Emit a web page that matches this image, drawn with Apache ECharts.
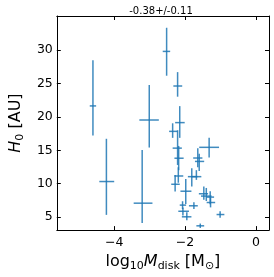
<!DOCTYPE html>
<html><head><meta charset="utf-8">
<script src="https://cdn.jsdelivr.net/npm/echarts@6/dist/echarts.min.js"></script>
<style>html,body{margin:0;padding:0;background:#fff}#c{width:274px;height:277px}</style>
</head><body><div id="c"></div>
<script>
const titleText = '-0.38+/-0.11';
const xTicks = [-4, -2, 0];
const yTicks = [5, 10, 15, 20, 25, 30];
const xVals  = [-4.60,-4.22,-3.21,-3.01,-2.52,-2.21,-2.15,-2.35,-2.21,-2.18,-1.32,-1.64,-1.60,-2.19,-2.28,-1.81,-1.68,-1.98,-2.07,-2.06,-1.95,-1.75,-1.47,-1.40,-1.29,-1.28,-1.01,-1.57];
const xLow   = [-4.69,-4.42,-3.45,-3.29,-2.63,-2.33,-2.28,-2.45,-2.35,-2.30,-1.60,-1.77,-1.72,-2.30,-2.39,-1.92,-1.81,-2.13,-2.15,-2.19,-2.09,-1.89,-1.61,-1.55,-1.39,-1.39,-1.11,-1.68];
const xHigh  = [-4.51,-4.00,-2.92,-2.74,-2.42,-2.08,-2.01,-2.21,-2.09,-2.04,-1.04,-1.51,-1.46,-2.05,-2.15,-1.65,-1.54,-1.82,-1.97,-1.89,-1.82,-1.64,-1.35,-1.25,-1.18,-1.15,-0.89,-1.46];
const yVals  = [21.64,10.32,7.08,19.53,29.80,24.62,19.14,17.83,15.32,13.81,15.44,13.84,13.33,11.15,9.91,11.05,11.05,8.87,6.79,5.87,5.04,6.69,8.49,8.14,7.99,7.18,5.38,3.69];
const yLow   = [17.21,5.33,4.13,15.41,26.16,23.02,16.86,16.86,12.80,12.02,13.91,12.46,11.88,10.14,8.82,9.59,10.57,6.94,6.21,5.23,4.51,6.21,7.59,7.41,6.93,6.45,4.90,3.37];
const yHigh  = [28.49,16.72,15.03,24.77,33.34,26.70,21.61,19.04,18.00,15.65,16.89,15.29,14.49,12.46,11.29,12.31,12.02,10.71,7.37,6.45,5.73,7.22,9.59,9.36,8.87,7.91,5.87,4.03];

const data = xVals.map((x, i) => [x, yVals[i], xLow[i], xHigh[i], yLow[i], yHigh[i]]);
const FONT = 'DejaVu Sans';
const minus = v => String(v).replace('-', '\u2212');

const chart = echarts.init(document.getElementById('c'), null, {renderer: 'canvas'});
const baseAxis = {
  axisLine: {show: true, onZero: false, lineStyle: {color: '#000', width: 1}},
  axisTick: {show: true, inside: true, length: 4, lineStyle: {color: '#000', width: 1}},
  splitLine: {show: false}
};
const richName = {
  n: {fontFamily: FONT, fontSize: 16, color: '#000'},
  i: {fontFamily: FONT, fontSize: 16, fontStyle: 'italic', color: '#000'},
  s: {fontFamily: FONT, fontSize: 11, color: '#000', verticalAlign: 'bottom', padding: [9, 0, 0, 0]}
};
chart.setOption({
  animation: false,
  title: {
    text: titleText, left: 156, top: 1, textAlign: 'center',
    textStyle: {fontFamily: FONT, fontSize: 10, fontWeight: 'normal', color: '#000'}
  },
  grid: {left: 43, right: 5, top: 16, bottom: 40},
  xAxis: [
    Object.assign({}, baseAxis, {
      type: 'value', min: -5.62, max: 0.37, position: 'bottom',
      axisTick: Object.assign({}, baseAxis.axisTick, {customValues: xTicks}),
      axisLabel: {customValues: xTicks, formatter: minus, fontFamily: FONT, fontSize: 12.5, color: '#000', margin: 6},
      name: '{n|log}{s|10}{i|M}{s|disk}{n| [M}{s|⊙}{n|]}',
      nameLocation: 'middle', nameGap: 21,
      nameTextStyle: {rich: richName}
    }),
    Object.assign({}, baseAxis, {
      type: 'value', min: -5.62, max: 0.37, position: 'top',
      axisTick: Object.assign({}, baseAxis.axisTick, {customValues: xTicks}),
      axisLabel: {show: false}
    })
  ],
  yAxis: [
    Object.assign({}, baseAxis, {
      type: 'value', min: 3.05, max: 35.1, position: 'left',
      axisTick: Object.assign({}, baseAxis.axisTick, {customValues: yTicks}),
      axisLabel: {customValues: yTicks, fontFamily: FONT, fontSize: 12.5, color: '#000', margin: 4},
      name: '{i|H}{s|0}{n| [AU]}',
      nameLocation: 'middle', nameGap: 25,
      nameTextStyle: {rich: richName}
    }),
    Object.assign({}, baseAxis, {
      type: 'value', min: 3.05, max: 35.1, position: 'right',
      axisTick: Object.assign({}, baseAxis.axisTick, {customValues: yTicks}),
      axisLabel: {show: false}
    })
  ],
  series: [{
    type: 'custom',
    xAxisIndex: 0, yAxisIndex: 0,
    data: data,
    renderItem: function (params, api) {
      const c = api.coord([api.value(0), api.value(1)]);
      const l = api.coord([api.value(2), api.value(1)]);
      const r = api.coord([api.value(3), api.value(1)]);
      const b = api.coord([api.value(0), api.value(4)]);
      const t = api.coord([api.value(0), api.value(5)]);
      const style = {stroke: '#1f77b4', lineWidth: 1.5, opacity: 0.85};
      return {
        type: 'group',
        children: [
          {type: 'line', shape: {x1: l[0], y1: l[1], x2: r[0], y2: r[1]}, style: style},
          {type: 'line', shape: {x1: c[0], y1: t[1], x2: c[0], y2: b[1]}, style: style}
        ]
      };
    }
  }]
});
</script></body></html>
